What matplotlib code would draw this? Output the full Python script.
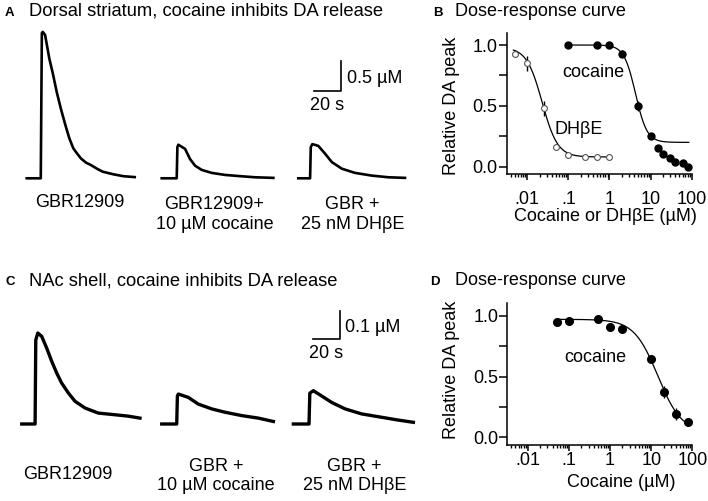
import numpy as np
import matplotlib
matplotlib.use("Agg")
import matplotlib.pyplot as plt
from matplotlib.ticker import FixedLocator, NullFormatter, LogLocator

plt.rcParams['font.family'] = ['Liberation Sans', 'DejaVu Sans']
plt.rcParams['font.size'] = 13

W, H = 708, 501

# ---------------- data ----------------
# Panel A traces (time in s relative to trace start, DA in uM)
A_t1 = [0, 10.4, 11.2, 11.85, 13.6, 16.7, 19.5, 22.2, 25.4, 28.6, 31.5, 34.5, 37.4, 40.2, 44.0, 47.6, 52.0, 56.3, 64.1, 71.6, 80.0]
A_y1 = [0, 0, 2.42, 2.44, 2.39, 2.0, 1.73, 1.44, 1.15, 0.89, 0.67, 0.5, 0.41, 0.33, 0.26, 0.22, 0.16, 0.11, 0.067, 0.035, 0.02]
A_t2 = [0, 11.1, 11.6, 12.3, 17.3, 21.0, 24.7, 29.6, 37.0, 47.0, 59.5, 69.1, 82.7]
A_y2 = [0, 0, 0.52, 0.56, 0.49, 0.32, 0.21, 0.14, 0.09, 0.056, 0.033, 0.017, 0.007]
A_t3 = [0, 8.7, 9.2, 10.4, 14.8, 19.8, 24.8, 32.2, 42.0, 54.4, 66.7, 79.0]
A_y3 = [0, 0, 0.52, 0.57, 0.54, 0.41, 0.27, 0.16, 0.09, 0.045, 0.017, 0.007]
A_labels = ["GBR12909", "GBR12909+\n10 \u00b5M cocaine", "GBR +\n25 nM DH\u03b2E"]

# Panel C traces
C_t1 = [0, 9.9, 10.4, 11.9, 14.8, 18.5, 22.2, 25.9, 29.6, 34.5, 39.5, 46.9, 56.7, 69.1, 79.0, 87.6]
C_y1 = [0, 0, 0.30, 0.325, 0.313, 0.271, 0.224, 0.182, 0.146, 0.111, 0.081, 0.057, 0.039, 0.033, 0.028, 0.021]
C_t2 = [0, 11.1, 11.6, 12.3, 19.7, 27.1, 37.0, 46.9, 59.3, 71.6, 82.7]
C_y2 = [0, 0, 0.10, 0.107, 0.095, 0.071, 0.054, 0.042, 0.030, 0.021, 0.009]
C_t3 = [0, 11.6, 12.2, 14.8, 21.0, 28.4, 38.3, 50.6, 65.4, 77.7, 88.9]
C_y3 = [0, 0, 0.11, 0.119, 0.100, 0.077, 0.054, 0.036, 0.024, 0.014, 0.006]
C_labels = ["GBR12909", "GBR +\n10 \u00b5M cocaine", "GBR +\n25 nM DH\u03b2E"]

# Panel B dose-response
B_coc_x = [0.1, 0.5, 1, 2, 5, 10, 15, 20, 30, 40, 60, 80]
B_coc_y = [1.0, 1.0, 1.0, 0.93, 0.50, 0.25, 0.15, 0.104, 0.069, 0.041, 0.028, 0.0]
B_coc_err = [0.0, 0.01, 0.02, 0.03, 0.04, 0.02, 0.01, 0.01, 0.01, 0.01, 0.01, 0.01]
B_dhbe_x = [0.005, 0.01, 0.025, 0.05, 0.1, 0.25, 0.5, 1]
B_dhbe_y = [0.93, 0.85, 0.48, 0.16, 0.10, 0.082, 0.082, 0.082]
B_dhbe_err = [0.03, 0.06, 0.06, 0.02, 0.01, 0.015, 0.015, 0.015]
# Hill fits: top, bottom, IC50, slope, xmin, xmax
B_coc_fit = (1.0, 0.20, 4.3, 3.1, 0.1, 85)
B_dhbe_fit = (0.98, 0.08, 0.023, 2.3, 0.0046, 1.0)

# Panel D dose-response
D_coc_x = [0.05, 0.1, 0.5, 1, 2, 10, 20, 40, 80]
D_coc_y = [0.95, 0.96, 0.97, 0.91, 0.89, 0.64, 0.375, 0.19, 0.123]
D_coc_err = [0.01, 0.02, 0.03, 0.02, 0.02, 0.02, 0.05, 0.05, 0.02]
D_coc_fit = (0.97, 0.04, 14.5, 1.5, 0.05, 80)

x_ticks = [0.01, 0.1, 1, 10, 100]
x_ticklabels = ['.01', '.1', '1', '10', '100']
y_ticks = [0.0, 0.5, 1.0]
y_ticklabels = ['0.0', '0.5', '1.0']


def hill(x, p):
    top, bottom, ic50, n = p[:4]
    return bottom + (top - bottom) / (1 + (x / ic50) ** n)


fig = plt.figure(figsize=(W / 100, H / 100), dpi=100)


def ftxt(px, py, s, **kw):
    fig.text(px / W, 1 - py / H, s, **kw)


PXS = 1.35  # px per second


def trace_axes(top_px, bot_px, base_px, px_per_uM):
    ax = fig.add_axes([0, 1 - bot_px / H, 440 / W, (bot_px - top_px) / H])
    ax.set_xlim(0, 440 / PXS)
    ax.set_ylim(-(bot_px - base_px) / px_per_uM, (base_px - top_px) / px_per_uM)
    ax.axis('off')
    return ax


# ---- Panel A ----
axA = trace_axes(20, 190, 178.3, 60)
A_off = [19.8, 119.8, 221.0]
for off, t, y in zip(A_off, [A_t1, A_t2, A_t3], [A_y1, A_y2, A_y3]):
    axA.plot(np.array(t) + off, y, color='black', lw=1.9, solid_joinstyle='round')
axA.plot([232.6, 252.6, 252.6], [1.455, 1.455, 1.955], color='black', lw=1.2)

ftxt(5, 16, "A", fontsize=9.5, fontweight='bold', va='baseline')
ftxt(29.3, 16, "Dorsal striatum, cocaine inhibits DA release", va='baseline', fontsize=13.2)
ftxt(346.7, 83, "0.5 \u00b5M", va='baseline')
ftxt(327.5, 110, "20 s", va='baseline', ha='center')
ftxt(80, 206.7, A_labels[0], ha='center', va='baseline')
for cx, lab in zip([214.5, 352.5], A_labels[1:]):
    ftxt(cx, 229.3, lab, ha='center', va='baseline', linespacing=1.25)

# ---- Panel C ----
axC = trace_axes(300, 450, 424, 280)
C_off = [16.1, 119.8, 217.3]
for off, t, y in zip(C_off, [C_t1, C_t2, C_t3], [C_y1, C_y2, C_y3]):
    axC.plot(np.array(t) + off, y, color='black', lw=2.4, solid_joinstyle='round')
axC.plot([231.9, 251.9, 251.9], [0.304, 0.304, 0.404], color='black', lw=1.2)

ftxt(5, 285, "C", fontsize=9.5, fontweight='bold', va='baseline')
ftxt(29.3, 285, "NAc shell, cocaine inhibits DA release", va='baseline', fontsize=13.2)
ftxt(345, 331.7, "0.1 \u00b5M", va='baseline')
ftxt(325.8, 358.3, "20 s", va='baseline', ha='center')
ftxt(68.3, 479.3, C_labels[0], ha='center', va='baseline')
for cx, lab in zip([215.8, 354.2], C_labels[1:]):
    ftxt(cx, 490.5, lab, ha='center', va='baseline', linespacing=1.2)


# ---- dose response axes ----
def dr_axes(left, right, top, bottom, y0, y1px, xpad):
    ppu = y0 - y1px
    ax = fig.add_axes([left / W, 1 - bottom / H, (right - left) / W, (bottom - top) / H])
    ax.set_xscale('log')
    ax.set_xlim(10 ** -2.5, 100)
    ax.set_ylim(-(bottom - y0) / ppu, (y0 - top) / ppu)
    for s in ['top', 'right']:
        ax.spines[s].set_visible(False)
    for s in ['left', 'bottom']:
        ax.spines[s].set_linewidth(1.1)
    ax.xaxis.set_major_locator(FixedLocator(x_ticks))
    ax.set_xticklabels(x_ticklabels)
    ax.xaxis.set_minor_locator(LogLocator(base=10, subs=np.arange(2, 10), numticks=20))
    ax.xaxis.set_minor_formatter(NullFormatter())
    ax.yaxis.set_major_locator(FixedLocator(y_ticks))
    ax.set_yticklabels(y_ticklabels)
    ax.yaxis.set_minor_locator(FixedLocator([0.25, 0.75]))
    ax.tick_params(axis='x', which='major', length=4, width=1.1, pad=xpad, labelsize=13)
    ax.tick_params(axis='x', which='minor', length=2.2, width=1.0)
    ax.tick_params(axis='y', which='both', length=5.5, width=1.1, pad=1, labelsize=13)
    return ax


def fit_line(ax, p):
    xs = np.logspace(np.log10(p[4]), np.log10(p[5]), 200)
    ax.plot(xs, hill(xs, p), color='black', lw=0.9, zorder=2)


axB = dr_axes(506.7, 691.7, 33, 174, 166.7, 45, 8.0)
fit_line(axB, B_coc_fit)
fit_line(axB, B_dhbe_fit)
axB.errorbar(B_coc_x, B_coc_y, yerr=B_coc_err, fmt='o', color='black', ms=5, elinewidth=1, capsize=0, zorder=3)
axB.errorbar(B_dhbe_x, B_dhbe_y, yerr=B_dhbe_err, fmt='o', mfc='white', mec='#555555', ms=4.2, mew=0.8,
             ecolor='black', elinewidth=1, capsize=0, zorder=3)
ftxt(433, 16, "B", fontsize=9.5, fontweight='bold', va='baseline')
ftxt(455, 16, "Dose-response curve", va='baseline')
ftxt(593.7, 76.7, "cocaine", ha='center', va='baseline')
ftxt(555, 134, "DH\u03b2E", ha='left', va='baseline')
ftxt(451, 106, "Relative DA peak", rotation=90, ha='center', va='center')
ftxt(605, 221, "Cocaine or DH\u03b2E (\u00b5M)", ha='center', va='baseline')

axD = dr_axes(507.3, 692.3, 303.3, 445, 437.3, 315.7, 1.0)
fit_line(axD, D_coc_fit)
axD.errorbar(D_coc_x, D_coc_y, yerr=D_coc_err, fmt='o', color='black', ms=5.5, elinewidth=1, capsize=0, zorder=3)
ftxt(430, 285, "D", fontsize=9.5, fontweight='bold', va='baseline')
ftxt(455, 285, "Dose-response curve", va='baseline')
ftxt(595.8, 361.7, "cocaine", ha='center', va='baseline')
ftxt(451, 370, "Relative DA peak", rotation=90, ha='center', va='center')
ftxt(620.8, 487, "Cocaine (\u00b5M)", ha='center', va='baseline')

fig.savefig("out.png", dpi=100)
